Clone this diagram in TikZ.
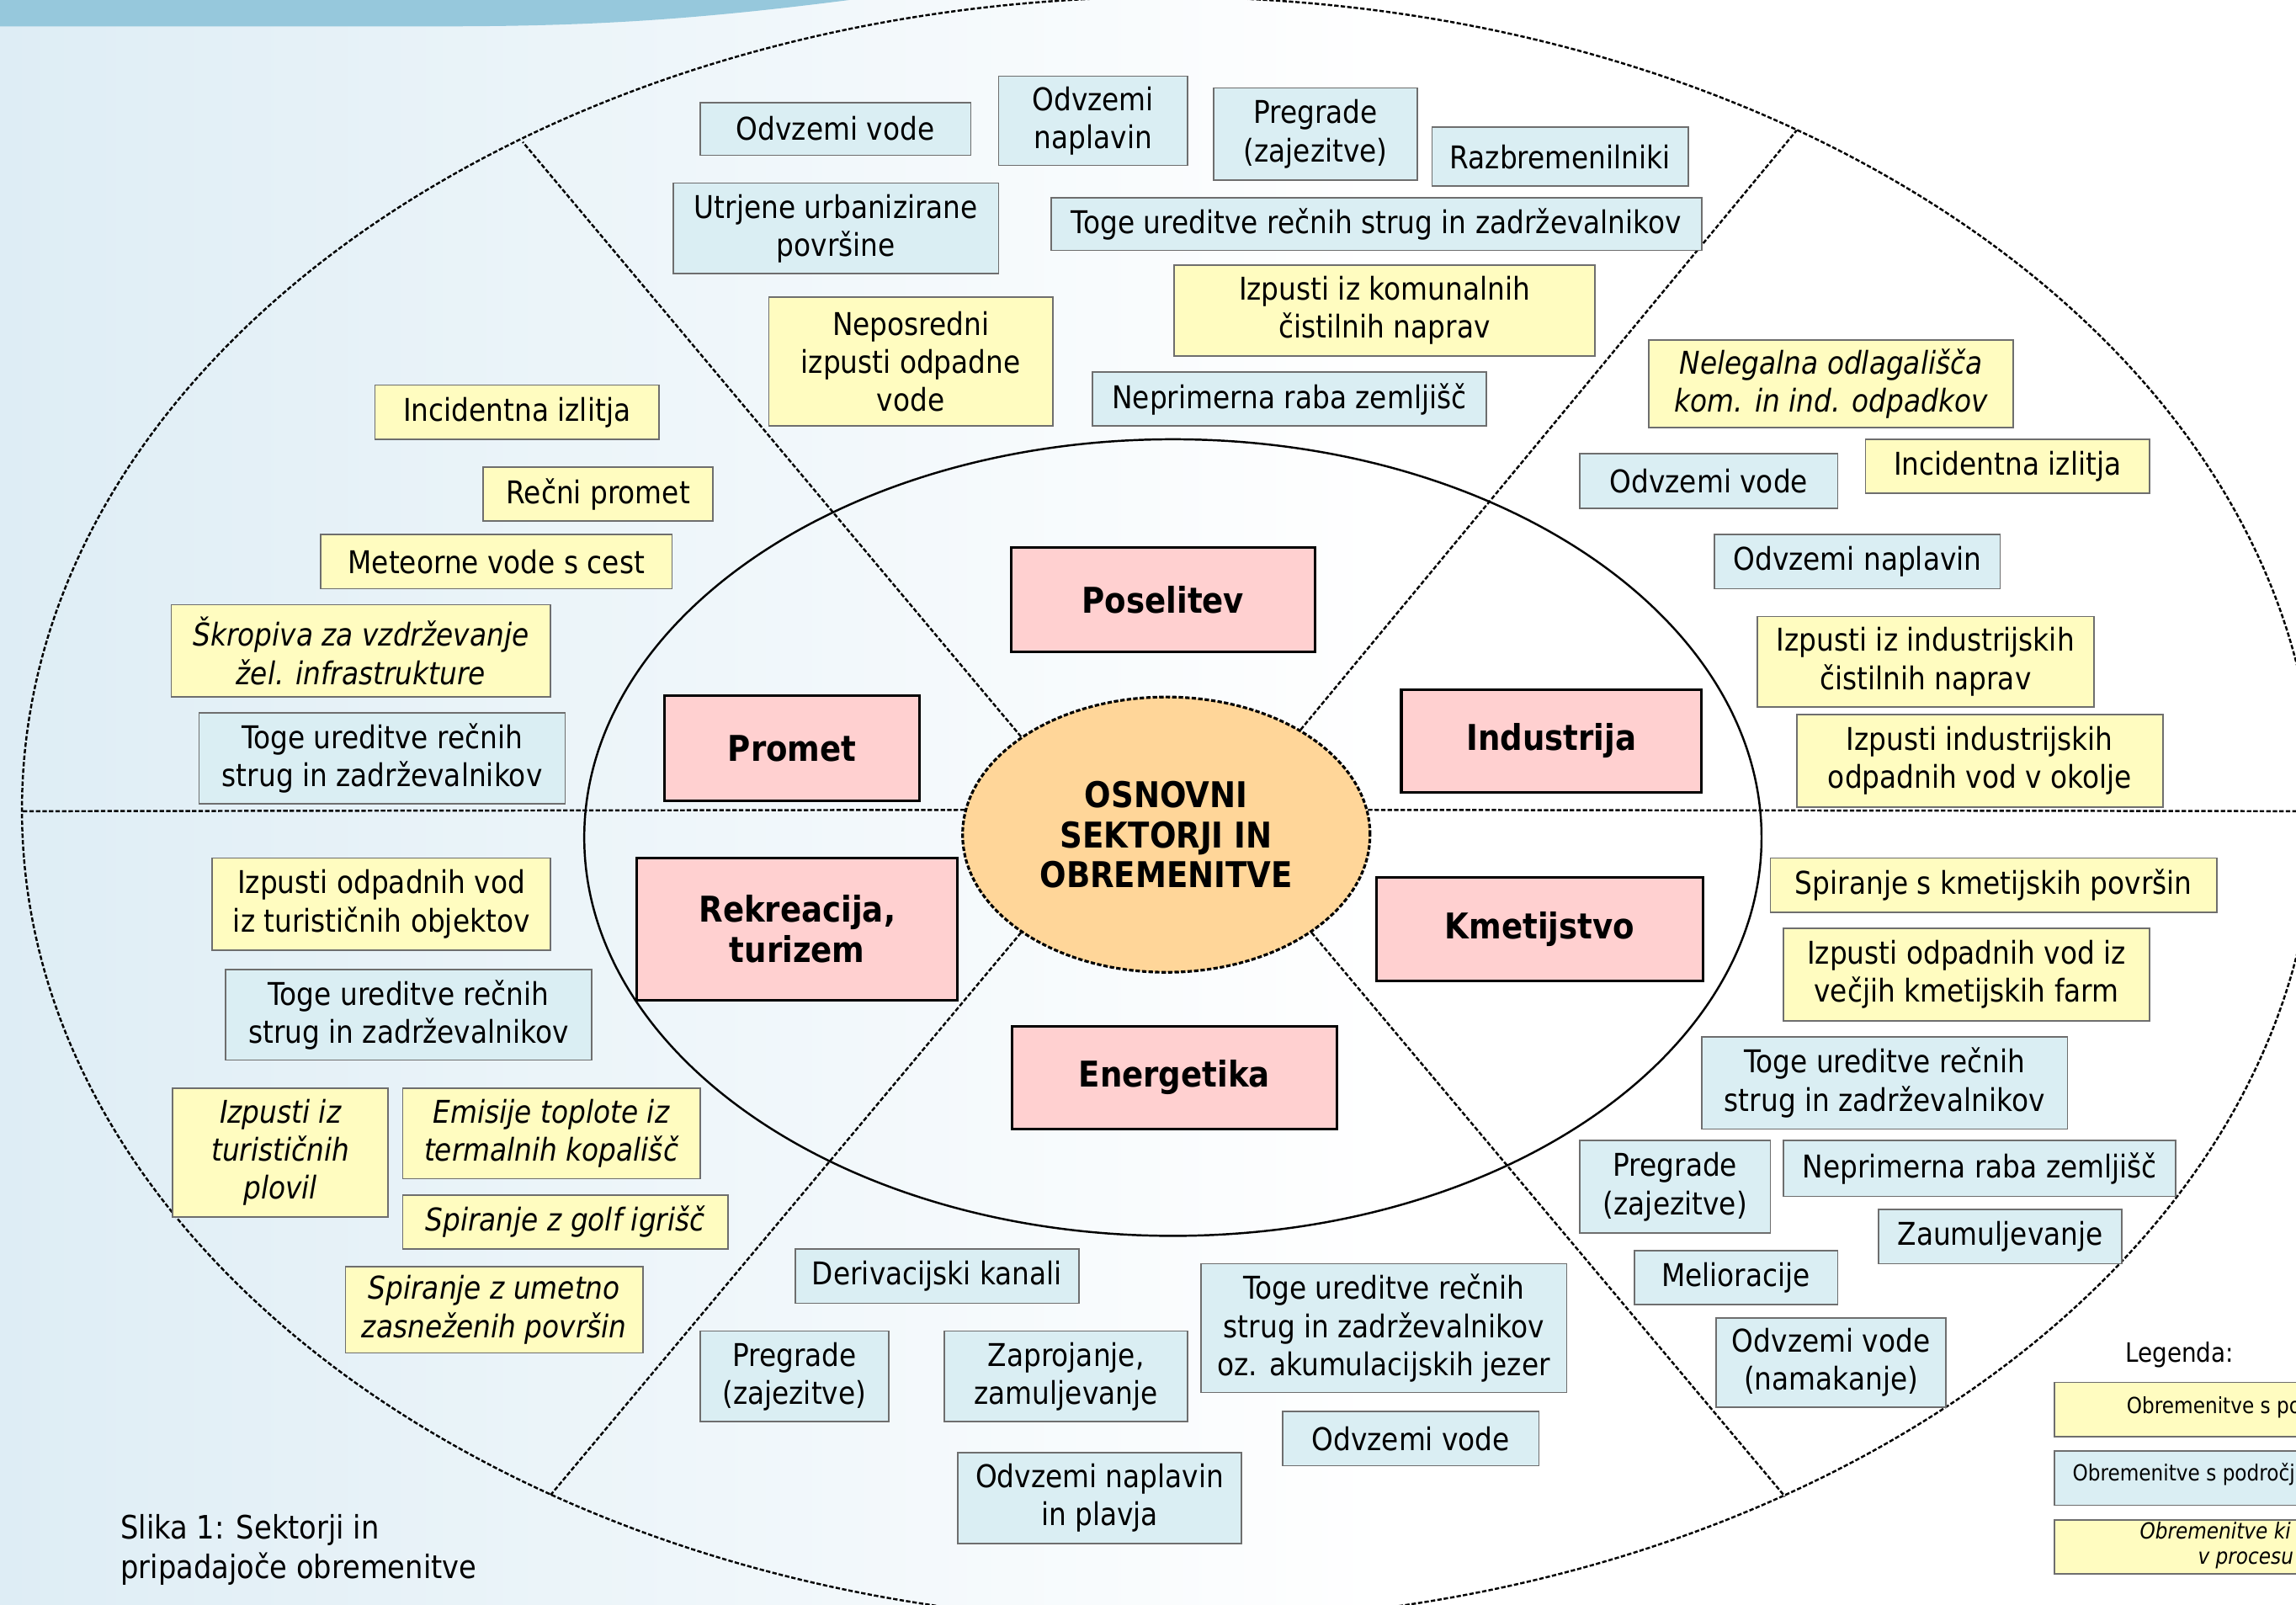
\documentclass[tikz,border=0pt]{standalone}
\usepackage{fontspec}
\setmainfont{DejaVu Sans}[FakeStretch=0.88]
\usepackage{xcolor}
\usetikzlibrary{shapes.geometric, calc}

\definecolor{loadblue}{RGB}{218,238,243}
\definecolor{loadyellow}{RGB}{255,252,192}
\definecolor{sectorpink}{RGB}{255,208,208}
\definecolor{coreorange}{RGB}{255,214,153}
\definecolor{bandblue}{RGB}{150,200,220}
\definecolor{bgblue}{RGB}{222,237,245}
\definecolor{boxgray}{RGB}{110,110,110}

\newcommand\itemfont{\fontsize{10.6}{12.9}\selectfont}
\newcommand\sectfont{\fontsize{12}{13.6}\selectfont\bfseries}
\newcommand\legfont{\fontsize{7.5}{8.6}\selectfont}

\begin{document}
\begin{tikzpicture}[
   x=0.017398cm, y=-0.017398cm,
   boxat/.style args = {#1/#2/#3/#4}{minimum width={(#3-#1)*0.017398cm}, minimum height={(#4-#2)*0.017398cm}, at={({(#1+#3)/2},{(#2+#4)/2})}},
   box/.style = {draw=boxgray, line width=0.5pt, rectangle, inner sep=0pt, align=center, font=\itemfont},
   bluebox/.style = {box, fill=loadblue},
   yellowbox/.style = {box, fill=loadyellow},
   yellowit/.style = {yellowbox, font=\itemfont\itshape},
   sector/.style = {draw, line width=0.9pt, rectangle, fill=sectorpink, inner sep=0pt, align=center, font=\sectfont},
   divider/.style = {draw, dash pattern=on 1.5pt off 0.7pt, line width=0.7pt}
   ]
  \useasboundingbox (0,0) rectangle (1568,1096);
  \clip (0,0) rectangle (1568,1096);

  % Background
  \shade[left color=bgblue, right color=white] (0,0) rectangle (950,1096);
  \fill[white] (950,0) rectangle (1568,1096);
  \fill[bandblue] (0,0) -- (580,0) .. controls (470,14) and (400,18) .. (300,18) -- (0,18) -- cycle;

  % Rings
  \draw[divider] (798,553) ellipse [x radius=783, y radius=555];
  \draw[line width=0.7pt] (801,572) ellipse [x radius=402, y radius=272];

  % Centre
  \node[ellipse, draw, dash pattern=on 1.5pt off 0.7pt, line width=0.9pt, fill=coreorange,
        minimum width=4.84cm, minimum height=3.27cm, inner sep=0pt, align=center, font=\sectfont]
        (core) at (796.5,570) {OSNOVNI\\SEKTORJI IN\\OBREMENITVE};

  % Sector borders
  \coordinate (ul) at (357,97);
  \coordinate (ur) at (1227,89);
  \coordinate (ll) at (376,1021);
  \coordinate (lr) at (1219,1022);
  \coordinate (west) at (15,554);
  \coordinate (east) at (1581,554);
  \draw[divider] (core.146) -- (ul);
  \draw[divider] (core.38) -- (ur);
  \draw[divider] (core.214) -- (ll);
  \draw[divider] (core.326) -- (lr);
  \draw[divider] (core.173) -- (west);
  \draw[divider] (core.7) -- (east);

  % Sectors
  \node[sector, boxat=690.5/374/898/445] (poselitev) {Poselitev};
  \node[sector, boxat=454/475/628/547] (promet) {Promet};
  \node[sector, boxat=957/471/1162/541] (industrija) {Industrija};
  \node[sector, boxat=435/586/654/683] (rekreacija) {Rekreacija,\\turizem};
  \node[sector, boxat=940/599/1163/670] (kmetijstvo) {Kmetijstvo};
  \node[sector, boxat=691/701/913/771] (energetika) {Energetika};

  % Poselitev
  \node[bluebox, boxat=478/70/663/106] (pos1) {Odvzemi vode};
  \node[bluebox, boxat=682/52/811/113] (pos2) {Odvzemi\\naplavin};
  \node[bluebox, boxat=829/60/968/123] (pos3) {Pregrade\\(zajezitve)};
  \node[bluebox, boxat=978/87/1153/127] (pos4) {Razbremenilniki};
  \node[bluebox, boxat=460/125/682/187] (pos5) {Utrjene urbanizirane\\površine};
  \node[bluebox, boxat=718/135/1162/171] (pos6) {Toge ureditve rečnih strug in zadrževalnikov};
  \node[yellowbox, boxat=802/181/1089/243] (pos7) {Izpusti iz komunalnih\\čistilnih naprav};
  \node[yellowbox, boxat=525/203/719/291] (pos8) {Neposredni\\izpusti odpadne\\vode};
  \node[bluebox, boxat=746/254/1015/291] (pos9) {Neprimerna raba zemljišč};

  % Industrija
  \node[yellowit, boxat=1126/232/1375/292] (ind1) {Nelegalna odlagališča\\kom. in ind. odpadkov};
  \node[bluebox, boxat=1079/310/1255/347] (ind2) {Odvzemi vode};
  \node[yellowbox, boxat=1274/300/1468/337] (ind3) {Incidentna izlitja};
  \node[bluebox, boxat=1171/365/1366/402] (ind4) {Odvzemi naplavin};
  \node[yellowbox, boxat=1200/421/1430/483] (ind5) {Izpusti iz industrijskih\\čistilnih naprav};
  \node[yellowbox, boxat=1227/488/1477/551] (ind6) {Izpusti industrijskih\\odpadnih vod v okolje};

  % Kmetijstvo
  \node[yellowbox, boxat=1209/586/1514/623] (kme1) {Spiranje s kmetijskih površin};
  \node[yellowbox, boxat=1218/634/1468/697] (kme2) {Izpusti odpadnih vod iz\\večjih kmetijskih farm};
  \node[bluebox, boxat=1162/708/1412/771] (kme3) {Toge ureditve rečnih\\strug in zadrževalnikov};
  \node[bluebox, boxat=1079/779/1209/842] (kme4) {Pregrade\\(zajezitve)};
  \node[bluebox, boxat=1218/779/1486/817] (kme5) {Neprimerna raba zemljišč};
  \node[bluebox, boxat=1283/826/1449/863] (kme6) {Zaumuljevanje};
  \node[bluebox, boxat=1116/854/1255/891] (kme7) {Melioracije};
  \node[bluebox, boxat=1172/900/1329/961] (kme8) {Odvzemi vode\\(namakanje)};

  % Energetika
  \node[bluebox, boxat=543/853/737/890] (ene1) {Derivacijski kanali};
  \node[bluebox, boxat=478/909/607/971] (ene2) {Pregrade\\(zajezitve)};
  \node[bluebox, boxat=645/909/811/971] (ene3) {Zaprojanje,\\zamuljevanje};
  \node[bluebox, boxat=820/863/1070/951] (ene4) {Toge ureditve rečnih\\strug in zadrževalnikov\\oz. akumulacijskih jezer};
  \node[bluebox, boxat=876/964/1051/1001] (ene5) {Odvzemi vode};
  \node[bluebox, boxat=654/992/848/1054] (ene6) {Odvzemi naplavin\\in plavja};

  % Rekreacija, turizem
  \node[yellowbox, boxat=145/586/376/649] (rek1) {Izpusti odpadnih vod\\iz turističnih objektov};
  \node[bluebox, boxat=154/662/404/724] (rek2) {Toge ureditve rečnih\\strug in zadrževalnikov};
  \node[yellowit, boxat=118/743/265/831] (rek3) {Izpusti iz\\turističnih\\plovil};
  \node[yellowit, boxat=275/743/478/805] (rek4) {Emisije toplote iz\\termalnih kopališč};
  \node[yellowit, boxat=275/816/497/853] (rek5) {Spiranje z golf igrišč};
  \node[yellowit, boxat=236/865/439/924] (rek6) {Spiranje z umetno\\zasneženih površin};

  % Promet
  \node[yellowbox, boxat=256/263/450/300] (pro1) {Incidentna izlitja};
  \node[yellowbox, boxat=330/319/487/356] (pro2) {Rečni promet};
  \node[yellowbox, boxat=219/365/459/402] (pro3) {Meteorne vode s cest};
  \node[yellowit, boxat=117/413/376/476] (pro4) {Škropiva za vzdrževanje\\žel. infrastrukture};
  \node[bluebox, boxat=136/487/386/549] (pro5) {Toge ureditve rečnih\\strug in zadrževalnikov};

  % Legend
  \node[anchor=west, inner sep=0pt, font=\fontsize{9}{10}\selectfont] (legend) at (1451,925) {Legenda:};
  \node[yellowbox, boxat=1403/944/1600/981] (leg1) {};
  \node[bluebox, boxat=1403/991/1600/1028] (leg2) {};
  \node[yellowbox, boxat=1403/1038/1600/1075] (leg3) {};
  \node[anchor=west, inner sep=0pt, font=\legfont] (leg1text) at (1452,961) {Obremenitve s po};
  \node[anchor=west, inner sep=0pt, font=\legfont] (leg2text) at (1415,1007) {Obremenitve s področj};
  \node[anchor=west, inner sep=0pt, align=left, font=\legfont\itshape] (leg3text) at (1461,1055.5)
   {Obremenitve ki\\\hspace*{0.69cm}v procesu};

  % Caption
  \node[anchor=west, inner sep=0pt, align=left, font=\fontsize{10.9}{13.4}\selectfont] (caption) at (82,1058.5)
   {Slika 1: Sektorji in\\pripadajoče obremenitve};
\end{tikzpicture}
\end{document}
